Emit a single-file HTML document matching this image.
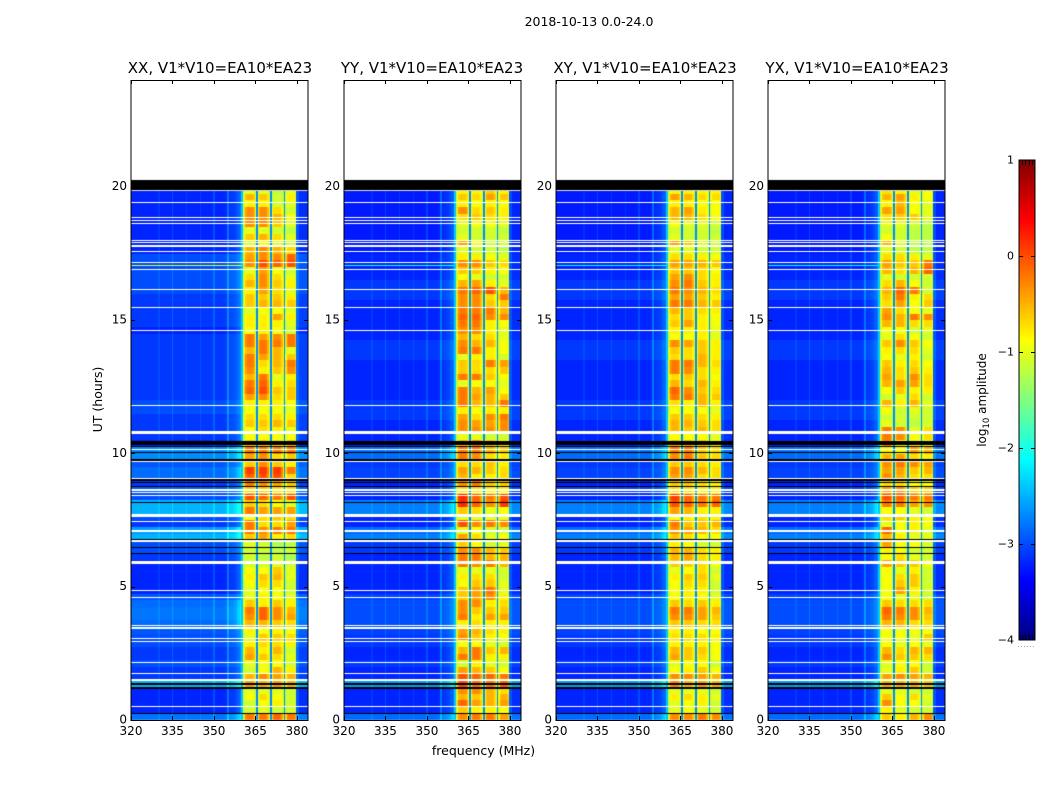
<!DOCTYPE html>
<html lang="en">
<head>
<meta charset="utf-8">
<title>2018-10-13 spectrogram</title>
<style>
html,body{margin:0;padding:0;background:#fff;width:1050px;height:800px;overflow:hidden}
#stage{position:relative;width:1050px;height:800px}
canvas{position:absolute;left:0;top:0}
svg{position:absolute;left:0;top:0}
text{font-family:"DejaVu Sans","Liberation Sans",sans-serif;fill:#000}
</style>
</head>
<body>
<div id="stage">
<canvas id="heat" width="1050" height="800"></canvas>
<svg id="over" width="1050" height="800" xmlns="http://www.w3.org/2000/svg">
<text x="483.5" y="755" text-anchor="middle" font-size="12.5">frequency (MHz)</text>
<text x="102" y="399.5" text-anchor="middle" font-size="12.5" transform="rotate(-90 102 399.5)">UT (hours)</text>
<text x="986" y="400" text-anchor="middle" font-size="12" transform="rotate(-90 986 400)">log<tspan font-size="8.5" dy="3">10</tspan><tspan dy="-3"> amplitude</tspan></text>
<text x="589" y="26" text-anchor="middle" font-size="12.5">2018-10-13 0.0-24.0</text>
</svg>
</div>
<script>
// ---- axis values ----
const panelNames = ['XX, V1*V10=EA10*EA23','YY, V1*V10=EA10*EA23','XY, V1*V10=EA10*EA23','YX, V1*V10=EA10*EA23'];
const freqTicks = [320,335,350,365,380];
const hourTicks = [0,5,10,15,20];
const colorTicks = [1,0,-1,-2,-3,-4];

// ---- per-row channel levels (log10 amplitude), rows from 0 h upward in 0.25 h steps, four sub-bands ----
const levelsXX = [
[-.2,-.2,-.1,-.2],[-1.1,-1,-1.1,-1.1],[-1.1,-.9,-.8,-1.1],[-.9,-.7,-.9,-1.1],[-1,-1,-1,-1.1],[-.4,-.5,-.4,-.5],[-.5,-.3,-.4,-.5],[-1.1,-.9,-.5,-.8],[-1,-.9,-.9,-1.1],[-.4,-.6,-.7,-1],
[-.5,-.8,-.5,-1.1],[-.8,-.7,-.7,-.8],[-1,-.6,-.6,-.7],[-.8,-.9,-.8,-.9],[-.5,-.5,-.6,-.7],[-.3,-.1,-.3,-.4],[-.2,-.1,-.3,-.5],[-.6,-.8,-.6,-.8],[-1,-.8,-.9,-1],[-1,-.9,-.9,-1.1],
[-.9,-.7,-.7,-1.1],[-.8,-.6,-.5,-1],[-.9,-.9,-.6,-1],[-1.1,-1.1,-1,-1.1],[-1.1,-1.2,-1.1,-1.3],[-1.1,-1.1,-1.2,-1.1],[-1,-1.1,-1.3,-1.2],[-.6,-.4,-.8,-.7],[-.2,-.3,-.2,-.2],[-.2,-.7,-.7,-.4],
[-.9,-.7,-.6,-.7],[-.2,-.4,-.4,-.4],[-.6,-.7,-.9,-1],[0,-.1,-.2,0],[-.6,-.6,-.7,-.7],[-.2,-.3,-.4,-.6],[-.1,0,0,-.7],[.1,.1,.1,-.2],[-.6,-.3,-.6,-.8],[-.4,-.3,-.7,-.6],
[-.2,-.2,-.2,-.2],[-.6,-.6,-.7,-.6],[-.9,-.9,-.9,-.9],[-.9,-.7,-.8,-1],[-.6,-.6,-.5,-.6],[-.7,-.7,-.7,-.8],[-.9,-.9,-.9,-1],[-.8,-.8,-.8,-.9],[-.4,-.3,-.7,-.6],[-.1,0,-.6,-.6],
[-.2,-.1,-.8,-.7],[-.5,-.2,-1,-.8],[-.3,-.8,-.6,-.3],[-.2,-.7,-.5,-.2],[-.2,-.4,-.5,-.6],[-.5,-.2,-.5,-1],[-.2,-.2,-.2,-.2],[-.2,-.4,-.3,-.2],[-.9,-.8,-.9,-1.1],[-.8,-.8,-.8,-1],
[-.8,-.8,-.4,-.8],[-1,-.9,-.9,-1],[-.6,-.5,-.5,-.6],[-.6,-.6,-.6,-.8],[-.8,-.4,-.7,-1],[-.5,-.3,-.6,-.8],[-.7,-.3,-.7,-1],[-1,-.4,-.9,-1.1],[-.3,0,-.1,0],[-.4,-.3,-.3,-.1],
[-.5,-.3,-.5,-.7],[-1,-.9,-1,-1.1],[-.6,-.5,-.7,-1],[-1,-1,-1.1,-1.2],[-.3,-.3,-.6,-1],[-.3,-.3,-.5,-.9],[-.3,-.3,-.7,-1.1],[-.8,-.8,-1.1,-1],[-.5,-.6,-1.1,-.8],[-1,-1,-1.2,-1]];
const levelsYY = [
[-.3,-.2,-.2,-.4],[-.6,-.8,-.8,-.9],[-.1,-.4,-.5,-.4],[-.5,-.6,-.5,-.5],[-.3,-.3,-.5,-.7],[0,-.2,-.2,-.1],[0,-.1,-.1,-.2],[-.4,-.5,-.6,-.9],[-1.1,-.8,-1,-1.1],[-.2,-.2,-.8,-.8],
[-.5,-.2,-.6,-.5],[-.9,-.9,-1,-1.1],[-.3,-.6,-.8,-.9],[-.4,-.5,-.7,-.8],[-.8,-.7,-.8,-.8],[-.2,-.8,-.4,-.4],[-.3,-.6,-.6,-.6],[-.3,-.3,-.8,-.7],[-.6,-.4,-.3,-.8],[-.6,-.4,-.2,-1],
[-.9,-.6,-.6,-1],[-.8,-.7,-.7,-1.1],[-1,-1,-1,-1.1],[-.2,-.3,-.2,-.5],[-.2,-.2,-.5,-.5],[-.3,-.3,-.5,-.6],[-.6,-.9,-1.1,-1],[-.4,-.7,-1,-.9],[-1,-.9,-1.1,-1.1],[0,-.3,-.2,-.3],
[-1,-1,-1,-1],[-.6,-.7,-1,-.9],[.2,-.1,-.3,.1],[.2,-.1,-.2,0],[-.7,-.7,-.8,-.8],[-.3,-.2,-.6,-.6],[-.5,-.8,-.8,-.7],[-.4,-.5,-.6,-.7],[-.7,-.7,-.6,-.8],[-.2,-.3,-.7,-.8],
[-.2,-.2,-.5,-.6],[-.5,-.3,-.6,-.8],[-1,-1,-1.1,-1.1],[-.3,-.3,-.3,-.3],[-.3,-.4,-.4,-.3],[-.4,-.7,-.3,-.2],[-.8,-.9,-.8,-.8],[-.2,-.5,-.5,-.2],[-.2,-.4,-.5,-.6],[-.2,-.5,-.4,-.9],
[-1,-.9,-.9,-1],[-.2,-.2,-.6,-.9],[-.6,-.7,-.7,-.6],[-.6,-.7,-.2,-.4],[-1,-.8,-.8,-1.1],[-.2,-.2,-.8,-.9],[-.3,-.5,-.5,-.9],[-.5,-.7,-.7,-1],[-.3,-.3,-.8,-1],[-.2,-.2,-.8,-.9],
[-.1,-.1,-.3,-.3],[-.2,-.2,-.2,-.5],[-.3,-.3,-.6,-.6],[-.3,-.3,-.7,-.2],[-.2,-.1,0,-.5],[-.5,-.4,-.8,-1],[-.9,-1,-1.1,-1.1],[-.6,-.6,-.8,-.9],[-.3,-.3,-.6,-.7],[-.8,-.8,-.9,-1],
[-1,-1.1,-1.1,-1.2],[-.4,-.9,-1.1,-1.1],[-1,-1.1,-1.1,-1.1],[-1.1,-1.1,-1.1,-1.2],[-1,-.9,-.9,-1],[-.7,-.6,-.7,-.8],[-.3,-.7,-.6,-.8],[-.8,-.9,-.8,-.9],[-.6,-.7,-.4,-.6],[-.8,-.8,-.6,-.8]];
const levelsXY = [
[-.3,-.3,-.2,-.3],[-1,-.9,-1,-1.1],[-1,-.9,-.8,-1.1],[-.8,-.7,-.8,-1],[-1,-1,-1,-1.1],[-.3,-.5,-.4,-.5],[-.3,-.3,-.4,-.5],[-.9,-.8,-.6,-.9],[-1,-.9,-.9,-1.1],[-.4,-.6,-.7,-.9],
[-.5,-.6,-.6,-.9],[-.8,-.8,-.8,-.9],[-.7,-.7,-.7,-.8],[-.8,-.8,-.9,-.9],[-.6,-.6,-.7,-.7],[-.3,-.3,-.4,-.6],[-.2,-.2,-.4,-.5],[-.6,-.7,-.6,-.8],[-.9,-.8,-.9,-1],[-.9,-.8,-.8,-1.1],
[-.9,-.7,-.7,-1.1],[-.8,-.6,-.6,-1],[-1,-.9,-.7,-1.1],[-.6,-.6,-.7,-.9],[-.5,-.4,-.7,-.8],[-.5,-.5,-.7,-.8],[-.8,-.9,-1.1,-1.1],[-.6,-.7,-.9,-.9],[-.3,-.4,-.5,-.7],[-.2,-.6,-.6,-.5],
[-.9,-.8,-.7,-.8],[-.4,-.5,-.8,-.8],[0,-.1,-.2,-.1],[.1,-.1,-.2,-.2],[-.7,-.7,-.8,-.8],[-.6,-.6,-.7,-.8],[-.4,-.4,-.7,-.7],[-.3,-.3,-.5,-.7],[-.6,-.6,-.7,-.8],[-.3,-.2,-.6,-.7],
[-.2,-.2,-.6,-.7],[-.5,-.5,-.6,-.8],[-.9,-.9,-.9,-1],[-.5,-.6,-.5,-.7],[-.5,-.5,-.6,-.7],[-.6,-.6,-.7,-.8],[-.9,-.9,-.9,-1],[-.7,-.8,-.5,-.8],[-.2,-.2,-.5,-.6],[-.1,-.3,-.6,-.7],
[-.5,-.7,-.5,-.8],[-.7,-.6,-.7,-.9],[-.2,-.3,-.7,-.8],[-.2,-.2,-.5,-.7],[-.7,-.7,-.5,-.8],[-.6,-.7,-.6,-.8],[-.3,-.4,-.6,-.8],[-.9,-.9,-.8,-1],[-.8,-.8,-.8,-1],[-.6,-.4,-.8,-.9],
[-.7,-.6,-.8,-.9],[-.5,-.6,-.7,-.8],[-.2,-.2,-.5,-.6],[-.4,-.4,-.6,-.8],[-.2,-.3,-.5,-.7],[-.3,-.2,-.6,-.8],[-.4,-.3,-.7,-.8],[-.6,-.6,-.7,-.9],[-.4,-.4,-.5,-.6],[-.7,-.7,-.8,-.9],
[-1,-1,-1.1,-1.1],[-.4,-.6,-1,-1.1],[-1,-1.1,-1.1,-1.1],[-1.1,-1.1,-1.1,-1.2],[-.9,-1,-1,-1.1],[-.5,-.5,-.7,-.9],[-.5,-.4,-.8,-.9],[-.8,-.8,-.9,-.9],[-.4,-.5,-.7,-.7],[-.8,-.8,-.8,-.8]];
const levelsYX = [
[-.6,-.8,-.5,-.3],[-.8,-1,-1.1,-1.1],[-.3,-.9,-.9,-1.1],[-.6,-.9,-.7,-1],[-1,-1,-1.1,-1.1],[-.5,-.5,-.5,-.6],[-.4,-.3,-.4,-.5],[-1,-.8,-.6,-1.1],[-1,-.9,-.9,-1.1],[-.3,-.6,-.6,-.7],
[-.5,-.7,-.5,-.5],[-.9,-1,-.9,-1],[-.9,-.9,-1,-.6],[-.9,-.9,-.9,-.9],[-.5,-.5,-.7,-.7],[-.2,-.3,-.3,-.6],[-.1,-.2,-.3,-.5],[-.6,-.7,-.7,-.7],[-.9,-1,-1,-1.1],[-.9,-.4,-.8,-1.1],
[-.9,-.6,-.6,-1.1],[-.9,-.7,-.6,-1.1],[-.9,-1,-.8,-1.1],[-.4,-.6,-.6,-.9],[-.9,-.7,-1,-1.1],[-.8,-.9,-1.1,-1.1],[-.4,-.9,-.9,-1.1],[-.5,-.8,-1,-1],[-.1,-.9,-.8,-1],[-1,-.9,-.8,-.9],
[-.7,-.6,-.8,-.9],[-.9,-.9,-1,-1.1],[-.2,-.2,-.4,-.3],[0,-.1,-.2,-.2],[-.4,-.3,-.6,-.6],[-.7,-.7,-.9,-.9],[-.3,-.5,-.7,-.7],[-.4,-.4,-.6,-.5],[-.3,-.2,-.3,-.4],[-.5,-.4,-.7,-.8],
[-.8,-.9,-.4,-.5],[-.3,-.8,-.8,-1],[-.2,-.3,-.9,-.7],[-.2,-.3,-1,-.7],[-1,-1.1,-1.2,-1.1],[-1.1,-1.1,-1.1,-1.1],[-.9,-1.1,-1,-1.1],[-.5,-.8,-.5,-1],[-1.1,-1,-.7,-1.1],[-.9,-.6,-.8,-.8],
[-.5,-.4,-.4,-.7],[-.4,-.7,-.3,-.7],[-.5,-.7,-.6,-.8],[-.6,-.8,-.7,-.9],[-.9,-1,-.8,-1.1],[-.8,-.7,-.7,-1],[-.6,-.3,-.6,-.9],[-1,-.7,-.9,-1.1],[-.9,-.9,-1.1,-1],[-.5,-.5,-.7,-.7],
[-.3,-.5,-.2,-.3],[-.4,-.7,-.9,-1],[-.7,-.4,-.9,-.6],[-.6,-.2,-.8,-.7],[-.5,-.1,-.2,-1.1],[-.7,-.5,-.9,-1.1],[-1,-1.1,-1.1,-1.1],[-.5,-.7,-.5,-.1],[-.4,-.6,-.6,-.2],[-.7,-.7,-.8,-1],
[-1,-1.1,-1.2,-1.2],[-.5,-1,-1.2,-1.2],[-.9,-1.1,-1.2,-1.2],[-1.1,-1.1,-1.2,-1.2],[-1,-1,-1.1,-1.2],[-.7,-.6,-.6,-1],[-.4,-.4,-.9,-1],[-.8,-.5,-.9,-1],[-.5,-.4,-.8,-.9],[-.7,-.8,-1,-.9]];
const panelLevels = [levelsXX, levelsYY, levelsXY, levelsYX];

// ---- off-band background level per row (log10 amplitude) ----
const backgroundXX = [-2.8,-3.2,-3.2,-3.2,-3.2,-2.5,-3.1,-3.1,-3,-3.1,-3.1,-3,-3,-2.95,-2.85,-2.8,-2.8,-2.85,-2.95,-3.2,-3.2,-3.2,-3.2,-3.2,-3.1,-3,-3,-2.5,-2.6,-3.1,-3,-2.5,-2.5,-3,-2.95,-3.1,-2.85,-2.85,-2.95,-2.7,-2.7,-3.2,-3.1,-3.1,-3.1,-3.1,-3,-3,-3.1,-3.1,-3.1,-3.1,-3.1,-3.1,-3.1,-3.1,-3.1,-3.1,-3.2,-3.1,-3.1,-3.1,-3.1,-3.1,-3,-3,-3,-3,-3,-3,-3.2,-3.2,-3.2,-3.2,-3.2,-3.2,-3.2,-3.2,-3.2,-3.2];
const backgroundOther = [-2.85,-3.2,-3.2,-3.2,-3.2,-2.6,-3.2,-3.2,-3.1,-3.2,-3.2,-3.1,-3.1,-3.05,-3,-3,-3,-3,-3.05,-3.2,-3.2,-3.2,-3.2,-3.2,-3.2,-3.1,-3.1,-2.75,-2.85,-3.2,-3.2,-2.75,-2.75,-3.2,-3.1,-3.2,-3.05,-3.05,-3.1,-2.85,-2.85,-3.2,-3.2,-3.2,-3.2,-3.1,-3.1,-3.1,-3.2,-3.2,-3.2,-3.2,-3.2,-3.2,-3.1,-3.1,-3.1,-3.2,-3.2,-3.2,-3.2,-3.2,-3.2,-3.1,-3.1,-3.1,-3.2,-3.2,-3.2,-3.2,-3.25,-3.25,-3.25,-3.25,-3.25,-3.25,-3.25,-3.25,-3.25,-3.25];
const panelBackground = [backgroundXX, backgroundOther, backgroundOther, backgroundOther];

// ---- sub-band profile and narrow-band interference (frequencies in MHz) ----
const channelWeights = [0,.55,.9,1,1,1,1,.95,.75,.35];
const bandEdgeLevel = -1.25;
const channelGapLevel = -2.7;
const rampBoost = [0,0,0,0,.03,.03,.05,.05,.08,.1,.12,.15,.2,.25,.3,.4];
const rfiFreqs = [330,335,340,345,350,355];
const rfiBoost = [.1,.2,.15,.12,.2,.35];

// ---- flagged time ranges (hours): blank (white) and zero-valued (black) ----
const whiteGaps = [19.84,19.39,18.83,18.72,18.61,17.97,17.89,17.56,17.14,16.91,16.15,15.48,14.61,11.8,10.15,9.69,9.06,8.66,8.59,8.52,8.43,7.71,7.65,7.44,4.85,4.58,3.56,3.45,3.04,2.94,2.14,1.76,.5,.26];
const wideWhiteGaps = [17.78,10.77,7.09,6.72,5.9,1.5];
const blackGaps = [10.33,10.25,10.04,9.75,9,8.89,8.74,8.14,6.78,6.48,6.25,1.2,.24];
const wideBlackGaps = [10.4,1.35];
const blackBlock = [19.87,20.25];
const brightRowHour = 17.07;
const brightRowLevel = [-1,-2,-2.1,-2.1];
const cbarMinorFraction = [.2,.4,.6,.8];

// ---- layout (pixels) ----
const panelLeft = [131,344,556,768];
const titleCentre = [220,432,645,857];
const panelWidth = 177;
const plotTop = 80, plotBottom = 720;
const freqMin = 320, freqMax = 384, hourMin = 0, hourMax = 24;
const binMHz = .5, rowHours = .25;

function xScale(panel, f){ return panelLeft[panel] + (f-freqMin)/(freqMax-freqMin)*panelWidth; }
function yScale(h){ return plotBottom - (h-hourMin)/(hourMax-hourMin)*(plotBottom-plotTop); }
function clamp01(v){ return Math.max(0,Math.min(1,v)); }
function jet(v){
  const t = clamp01((v+4)/5);
  const r = clamp01(Math.min(4*t-1.5,-4*t+4.5));
  const g = clamp01(Math.min(4*t-.5,-4*t+3.5));
  const b = clamp01(Math.min(4*t+.5,-4*t+2.5));
  return 'rgb('+Math.round(r*255)+','+Math.round(g*255)+','+Math.round(b*255)+')';
}
function cellValue(panel,row,f){
  const lv = panelLevels[panel][row];
  const bg = panelBackground[panel][row];
  if (f>=380) return bg + (f<381 ? .25 : .05);
  if (f>=360.5){
    const pos = (f-360.5)/5;
    const ch = Math.floor(pos+1e-6);
    const j = Math.round((pos-ch)*10);
    if (j===0 && ch>0) return channelGapLevel;
    const w = (j===0) ? .1 : channelWeights[j];
    return bandEdgeLevel + (lv[ch]-bandEdgeLevel)*w;
  }
  if (f>=360) return -2.4;
  let v = bg;
  const ri = rfiFreqs.indexOf(f);
  if (ri>=0) v += rfiBoost[ri];
  if (f>=352) v += rampBoost[Math.round((f-352)/binMHz)]*(bg>-2.9?1.6:1);
  return v;
}

const ctx = document.getElementById('heat').getContext('2d');
ctx.fillStyle = '#fff';
ctx.fillRect(0,0,1050,800);

function gapRect(panel,h,span,color){
  ctx.fillStyle = color;
  const y0 = Math.round(yScale(h+span/2));
  const y1 = Math.max(y0+1, Math.round(yScale(h-span/2)));
  ctx.fillRect(xScale(panel,freqMin),y0,panelWidth,y1-y0);
}
panelLevels.forEach(function(levels,p){
  levels.forEach(function(_,row){
    const y0 = yScale((row+1)*rowHours), y1 = yScale(row*rowHours);
    for (let f=freqMin; f<freqMax; f+=binMHz){
      ctx.fillStyle = jet(cellValue(p,row,f));
      const x0 = xScale(p,f), x1 = xScale(p,f+binMHz);
      ctx.fillRect(Math.floor(x0),Math.floor(y0),Math.ceil(x1)-Math.floor(x0),Math.ceil(y1)-Math.floor(y0));
    }
  });
  ctx.fillStyle = jet(brightRowLevel[p]);
  ctx.fillRect(xScale(p,freqMin),Math.round(yScale(brightRowHour)),xScale(p,360)-xScale(p,freqMin),1);
  whiteGaps.forEach(function(h){ gapRect(p,h,.04,'#fff'); });
  wideWhiteGaps.forEach(function(h){ gapRect(p,h,.1,'#fff'); });
  blackGaps.forEach(function(h){ gapRect(p,h,.04,'#000'); });
  wideBlackGaps.forEach(function(h){ gapRect(p,h,.09,'#000'); });
  ctx.fillStyle = '#000';
  ctx.fillRect(xScale(p,freqMin),yScale(blackBlock[1]),panelWidth,yScale(blackBlock[0])-yScale(blackBlock[1]));
  ctx.fillStyle = '#fff';
  ctx.fillRect(xScale(p,freqMin),plotTop,panelWidth,yScale(blackBlock[1])-plotTop);
});

// colorbar
const cbarLeft = 1019, cbarRight = 1035, cbarTop = 160, cbarBottom = 640, cbarMin = -4, cbarMax = 1;
function cbarY(v){ return cbarBottom - (v-cbarMin)/(cbarMax-cbarMin)*(cbarBottom-cbarTop); }
for (let y=cbarTop; y<cbarBottom; y++){
  ctx.fillStyle = jet(cbarMin + (cbarBottom-y-.5)/(cbarBottom-cbarTop)*(cbarMax-cbarMin));
  ctx.fillRect(cbarLeft,y,cbarRight-cbarLeft,1);
}

// overlay
const svg = document.getElementById('over');
const NS = 'http://www.w3.org/2000/svg';
function addLine(x1,y1,x2,y2,parent,color){
  const l = document.createElementNS(NS,'line');
  l.setAttribute('x1',x1);l.setAttribute('y1',y1);l.setAttribute('x2',x2);l.setAttribute('y2',y2);
  l.setAttribute('stroke',color||'#000');l.setAttribute('stroke-width','1');
  parent.appendChild(l);
  return l;
}
function addText(x,y,str,size,anchor,parent){
  const t = document.createElementNS(NS,'text');
  t.setAttribute('x',x);t.setAttribute('y',y);t.setAttribute('font-size',size);t.setAttribute('text-anchor',anchor);
  t.textContent = str;
  parent.appendChild(t);
  return t;
}
panelNames.forEach(function(name,p){
  const g = document.createElementNS(NS,'g');
  
  
  svg.appendChild(g);
  const left = panelLeft[p], right = left+panelWidth;
  const title = addText(titleCentre[p],73,name,15,'middle',g);
  
  
  const frame = document.createElementNS(NS,'rect');
  frame.setAttribute('x',left);frame.setAttribute('y',plotTop+.5);
  frame.setAttribute('width',panelWidth);frame.setAttribute('height',plotBottom-plotTop);
  frame.setAttribute('fill','none');frame.setAttribute('stroke','#000');frame.setAttribute('stroke-width','1');
  
  
  g.appendChild(frame);
  freqTicks.forEach(function(f){
    const x = Math.round(xScale(p,f))+.5;
    addLine(x,plotBottom,x,plotBottom-4,g);
    addLine(x,plotTop,x,plotTop+4,g);
    const lab = addText(xScale(p,f),735,String(f),12,'middle',g);
    
    
  });
  hourTicks.forEach(function(h){
    const y = Math.round(yScale(h))+.5;
    addLine(left,y,left+4,y,g);
    addLine(right-4,y,right,y,g);
    const lab = addText(left-4,yScale(h)+3.5,String(h),12,'end',g);
    
    
  });
});
const cg = document.createElementNS(NS,'g');


svg.appendChild(cg);
const cframe = document.createElementNS(NS,'rect');
cframe.setAttribute('x',cbarLeft);cframe.setAttribute('y',cbarTop);
cframe.setAttribute('width',cbarRight-cbarLeft);cframe.setAttribute('height',cbarBottom-cbarTop);
cframe.setAttribute('fill','none');cframe.setAttribute('stroke','#000');cframe.setAttribute('stroke-width','1');


cg.appendChild(cframe);
colorTicks.forEach(function(v){
  const y = Math.round(cbarY(v))+.5;
  if (v>cbarMin && v<cbarMax){
    addLine(cbarLeft,y,cbarLeft+4,y,cg);
    addLine(cbarRight-4,y,cbarRight,y,cg);
  }
  const lab = addText(1014,cbarY(v)+3.5,String(v).replace('-','\u2212'),11,'end',cg);
  
  
});
cbarMinorFraction.forEach(function(fr){
  const x = Math.round(cbarLeft+fr*(cbarRight-cbarLeft))+.5;
  addLine(x,cbarTop,x,cbarTop+5,cg);
  addLine(x,cbarBottom,x,cbarBottom-5,cg);
});
const dots = addLine(cbarLeft-1,646.5,cbarRight,646.5,cg,'#aaa');
dots.setAttribute('stroke-dasharray','1 2');


</script>
</body>
</html>
